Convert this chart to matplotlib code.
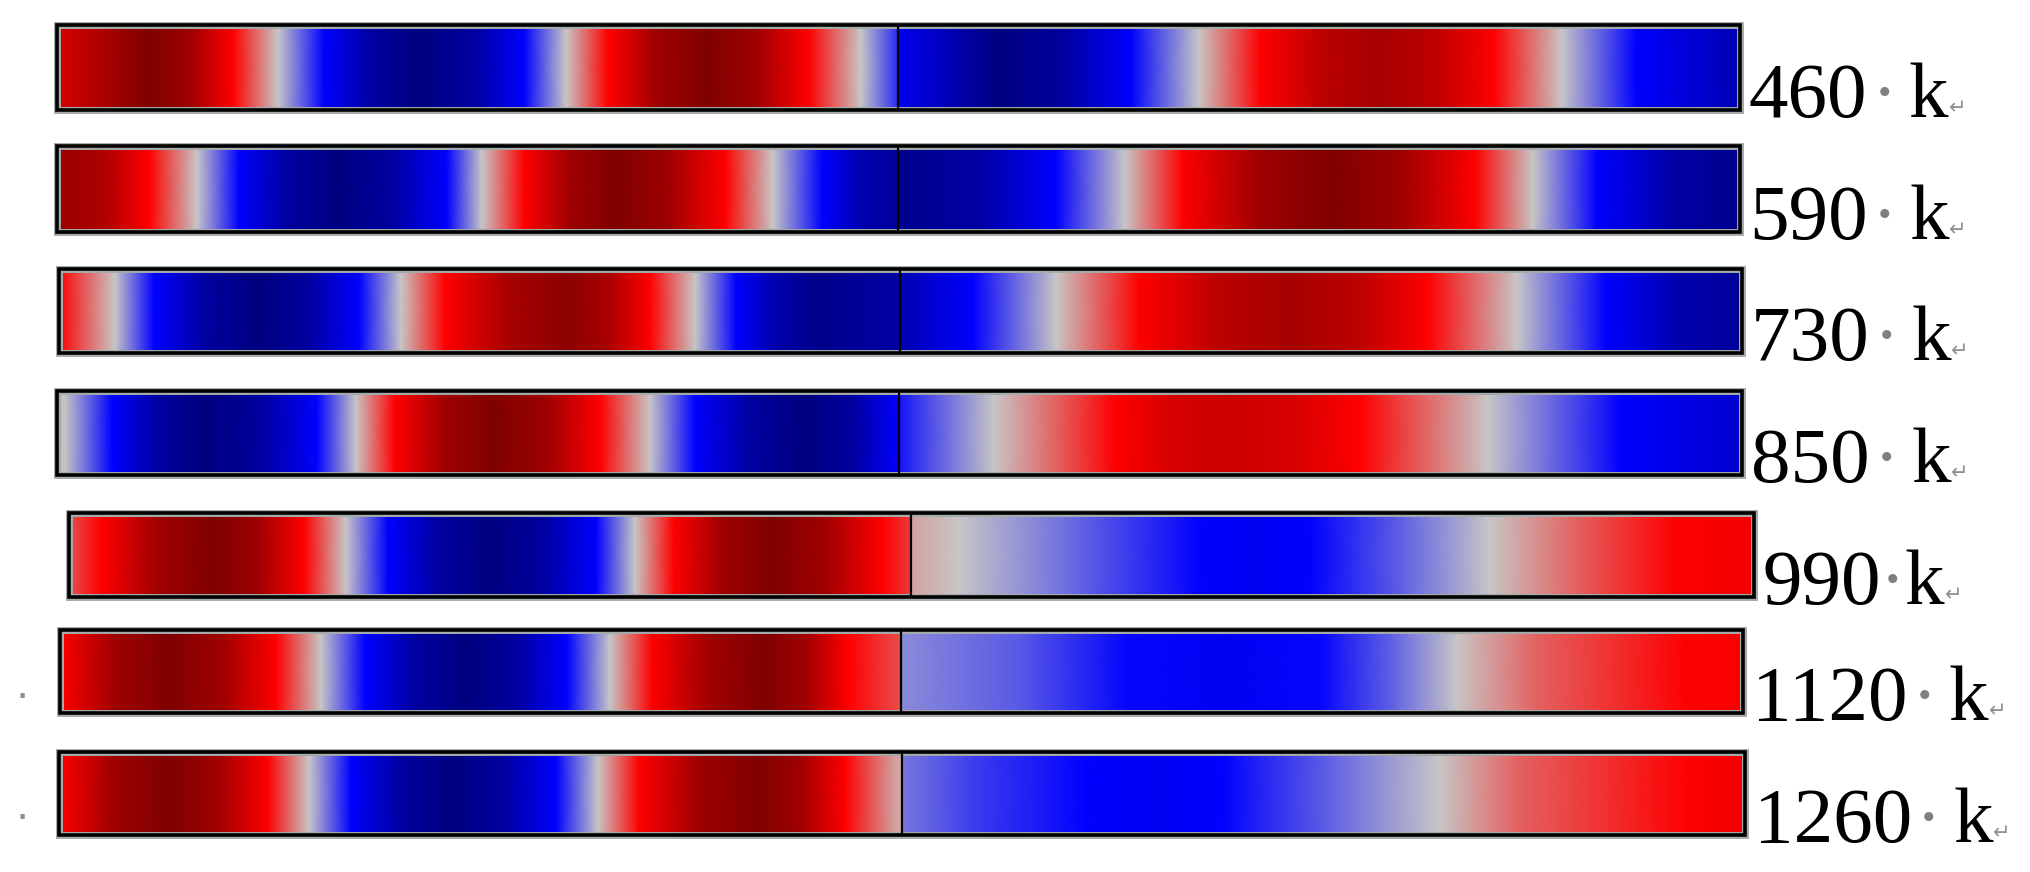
import matplotlib
matplotlib.use('Agg')
import matplotlib.pyplot as plt
import numpy as np
from matplotlib.colors import LinearSegmentedColormap
from matplotlib.patches import Rectangle

# frequency of each mode (label text)
freqs = ['460', '590', '730', '850', '990', '1120', '1260']

# mode shapes: (position along bar 0..1, value -1..1)
# the bar is split in the middle, so 0.5 appears twice (left end / right start)
mode_460 = [(0, 0.65), (0.0547, 1.0), (0.0797, 0.87), (0.1046, 0.5), (0.1313, 0),
            (0.1586, -0.5), (0.1875, -0.87), (0.2163, -1.0), (0.2469, -0.87),
            (0.2775, -0.5), (0.3024, 0), (0.3274, 0.5), (0.3562, 0.87), (0.385, 1.0),
            (0.4159, 0.87), (0.4468, 0.5), (0.4777, 0), (0.5, -0.4),
            (0.5, -0.55), (0.5585, -1.0), (0.5983, -0.87), (0.6381, -0.5), (0.6785, 0),
            (0.7154, 0.5), (0.75, 0.75), (0.7843, 0.85), (0.819, 0.75), (0.8538, 0.5),
            (0.8942, 0), (0.9382, -0.5), (1.0, -0.8)]
mode_590 = [(0, 0.9), (0.03, 0.8), (0.0547, 0.5), (0.0832, 0), (0.1081, -0.5),
            (0.1373, -0.87), (0.1664, -1.0), (0.199, -0.87), (0.2317, -0.5),
            (0.2525, 0), (0.2775, 0.5), (0.3045, 0.87), (0.3316, 1.0), (0.3642, 0.87),
            (0.3969, 0.5), (0.4254, 0), (0.4545, -0.5), (0.477, -0.8), (0.5, -0.9),
            (0.5, -0.95), (0.55, -0.85), (0.5933, -0.5), (0.6346, 0), (0.6691, 0.5),
            (0.7133, 0.87), (0.7576, 1.0), (0.8, 0.87), (0.8425, 0.5), (0.877, 0),
            (0.915, -0.5), (0.96, -0.85), (1.0, -0.95)]
mode_730 = [(0, 0.5), (0.0333, 0), (0.0564, -0.5), (0.0867, -0.87), (0.1171, -1.0),
            (0.1477, -0.87), (0.1783, -0.5), (0.2032, 0), (0.2294, 0.5), (0.2656, 0.83),
            (0.3018, 0.95), (0.3265, 0.83), (0.3512, 0.5), (0.3779, 0), (0.4023, -0.5),
            (0.4263, -0.83), (0.4504, -0.95), (0.5, -0.85),
            (0.5, -0.8), (0.5431, -0.5), (0.5924, 0), (0.6423, 0.5), (0.6868, 0.75),
            (0.7314, 0.85), (0.7724, 0.75), (0.8134, 0.5), (0.8663, 0), (0.9192, -0.5),
            (0.96, -0.8), (1.0, -0.9)]
mode_850 = [(0, 0.05), (0.0047, 0), (0.0326, -0.5), (0.0605, -0.87), (0.0884, -1.0),
            (0.1213, -0.87), (0.1543, -0.5), (0.1774, 0), (0.2006, 0.5), (0.2302, 0.87),
            (0.2599, 1.0), (0.2911, 0.87), (0.3223, 0.5), (0.3519, 0), (0.3786, -0.5),
            (0.4115, -0.87), (0.4445, -1.0), (0.4722, -0.87), (0.5, -0.5),
            (0.5, -0.45), (0.5561, 0), (0.6285, 0.5), (0.66, 0.65), (0.6944, 0.7),
            (0.734, 0.65), (0.7733, 0.5), (0.8493, 0), (0.9282, -0.5), (1.0, -0.7)]
mode_990 = [(0, 0.3), (0.0196, 0.5), (0.0528, 0.87), (0.0861, 1.0), (0.1128, 0.87),
            (0.1395, 0.5), (0.1644, 0), (0.1893, -0.5), (0.2193, -0.87), (0.2493, -1.0),
            (0.281, -0.87), (0.3128, -0.5), (0.3359, 0), (0.3591, 0.5), (0.3875, 0.87),
            (0.416, 1.0), (0.4492, 0.87), (0.4825, 0.5), (0.5, 0.35),
            (0.5, 0.1), (0.5282, 0), (0.5982, -0.25), (0.671, -0.5), (0.7039, -0.55),
            (0.737, -0.5), (0.7935, -0.25), (0.8433, 0), (0.8938, 0.25), (0.9537, 0.5),
            (1.0, 0.55)]
mode_1120 = [(0, 0.5), (0.0324, 0.87), (0.0648, 1.0), (0.0966, 0.87), (0.1283, 0.5),
             (0.1551, 0), (0.1812, -0.5), (0.2112, -0.87), (0.2412, -1.0), (0.2712, -0.87),
             (0.3012, -0.5), (0.3268, 0), (0.3518, 0.5), (0.385, 0.87), (0.4183, 1.0),
             (0.4432, 0.87), (0.4682, 0.5), (0.5, 0.3),
             (0.5, -0.15), (0.5698, -0.28), (0.6328, -0.48), (0.6934, -0.55),
             (0.75, -0.48), (0.7932, -0.25), (0.8301, 0), (0.8764, 0.25), (0.9667, 0.5),
             (1.0, 0.52)]
mode_1260 = [(0, 0.5), (0.0323, 0.87), (0.0646, 1.0), (0.0943, 0.87), (0.124, 0.5),
             (0.1483, 0), (0.1732, -0.5), (0.2028, -0.87), (0.2325, -1.0), (0.2636, -0.87),
             (0.2948, -0.5), (0.3197, 0), (0.344, 0.5), (0.3787, 0.87), (0.4134, 1.0),
             (0.4398, 0.87), (0.4662, 0.5), (0.4958, 0.1), (0.5, 0.08),
             (0.5, -0.2), (0.5427, -0.35), (0.6095, -0.5), (0.6506, -0.55), (0.69, -0.5),
             (0.7562, -0.25), (0.8185, 0), (0.8648, 0.25), (0.9668, 0.5), (1.0, 0.55)]
modes = [mode_460, mode_590, mode_730, mode_850, mode_990, mode_1120, mode_1260]

# layout in pixels (figure is 2030 x 872)
bar_left = [57, 57, 59, 57, 69, 60, 59]
bar_right = [1740, 1740, 1742, 1742, 1754, 1743, 1745]
bar_top = [25, 146, 269, 391, 513, 630, 752]
bar_bottom = [110, 232, 353, 475, 597, 713, 835]
dot_gap = [4, 4, 4, 4, -2, 4, 4]
k_gap = [12, 12, 12, 12, 0, 12, 12]

cmap = LinearSegmentedColormap.from_list(
    'mode', [(0, '#000080'), (0.25, '#0000ff'), (0.5, '#c8c8c8'),
             (0.75, '#ff0000'), (1, '#800000')])

fig = plt.figure(figsize=(20.3, 8.72), dpi=100)
ax = fig.add_axes([0, 0, 1, 1])
ax.set_xlim(0, 2030)
ax.set_ylim(872, 0)
ax.axis('off')

for i, mode in enumerate(modes):
    s = np.array([p[0] for p in mode])
    v = np.array([p[1] for p in mode])
    L, R, T, B = bar_left[i], bar_right[i], bar_top[i], bar_bottom[i]
    xs = L + s * (R - L)
    X, Y = np.meshgrid(xs, [T, B])
    C = np.vstack([v, v])
    ax.pcolormesh(X, Y, C, cmap=cmap, vmin=-1, vmax=1, shading='gouraud',
                  antialiased=False, zorder=1)

    # frame: grey halo + black border + middle line
    ax.add_patch(Rectangle((L, T), R - L, B - T, fill=False, ec='#a4abab', lw=5.0, zorder=2))
    ax.add_patch(Rectangle((L, T), R - L, B - T, fill=False, ec='black', lw=2.6, zorder=3))
    mid = L + 0.5 * (R - L)
    ax.plot([mid, mid], [T, B], color='black', lw=1.6, zorder=3)

    # label "460· k↵"
    base = B + 7
    t1 = ax.text(R + 9, base, freqs[i], fontsize=57, family='Liberation Serif',
                 va='baseline', ha='left', color='black')
    t2 = ax.annotate('·', xy=(1, base), xycoords=(t1, 'data'), xytext=(dot_gap[i], 0),
                     textcoords='offset pixels', fontsize=55, family='Liberation Serif',
                     va='baseline', ha='left', color='#808080')
    t3 = ax.annotate('k', xy=(1, base), xycoords=(t2, 'data'), xytext=(k_gap[i], 0),
                     textcoords='offset pixels', fontsize=57, family='Liberation Serif',
                     va='baseline', ha='left', color='black')
    ax.annotate('↵', xy=(1, base - 3), xycoords=(t3, 'data'), xytext=(0, 0),
                textcoords='offset pixels', fontsize=15, family='DejaVu Sans',
                va='baseline', ha='left', color='#909090')

# stray space marks on the left
ax.text(22, 698, '·', fontsize=30, color='#909090', ha='center', va='center')
ax.text(22, 819, '·', fontsize=30, color='#909090', ha='center', va='center')

fig.savefig('out.png', dpi=100)
